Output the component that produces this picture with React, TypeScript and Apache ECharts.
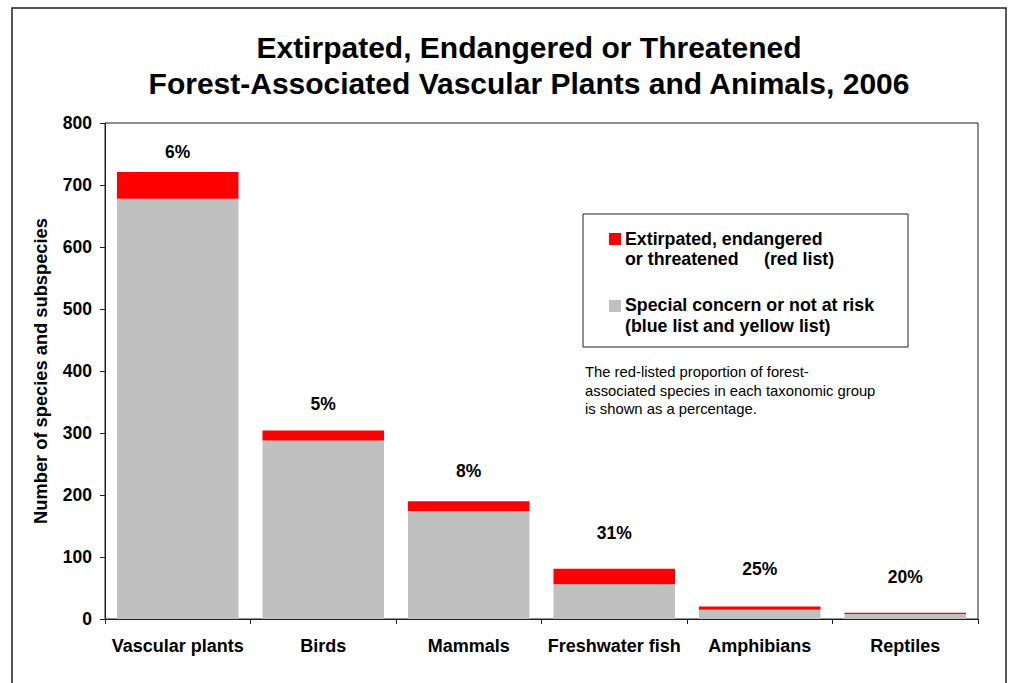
import React, { useEffect, useRef } from "react";
import * as echarts from "echarts";

const categories = ["Vascular plants", "Birds", "Mammals", "Freshwater fish", "Amphibians", "Reptiles"];
const notAtRisk = [678, 288, 174, 56, 15, 8];
const redListed = [43, 16, 16, 25, 5, 2];
const pctLabels = ["6%", "5%", "8%", "31%", "25%", "20%"];
const pctLabelY = [753, 347, 238, 139, 80, 68];
const yTicks = { min: 0, max: 800, interval: 100 };

const FONT = "'Liberation Sans', Arial, sans-serif";

export default function App() {
  const ref = useRef<HTMLDivElement>(null);
  useEffect(() => {
    if (!ref.current) return;
    const chart = echarts.init(ref.current, undefined, { renderer: "svg" });
    const legendText = { fontFamily: FONT, fontSize: 17.8, fontWeight: "bold", fill: "#000", verticalAlign: "middle" };
    chart.setOption({
      animation: false,
      backgroundColor: "#ffffff",
      title: {
        text: "Extirpated, Endangered or Threatened\nForest-Associated Vascular Plants and Animals, 2006",
        left: 524,
        top: 24,
        textAlign: "center",
        textStyle: { fontFamily: FONT, fontSize: 30, fontWeight: "bold", color: "#000", lineHeight: 36 },
      },
      grid: { left: 105, right: 36, top: 123, bottom: 64, show: true, borderColor: "#222", borderWidth: 1, containLabel: false },
      xAxis: {
        type: "category",
        data: categories,
        axisLine: { lineStyle: { color: "#222", width: 1 } },
        axisTick: { show: true, length: 5, lineStyle: { color: "#222" } },
        axisLabel: { fontFamily: FONT, fontSize: 18, fontWeight: "bold", color: "#000", margin: 18, interval: 0 },
      },
      yAxis: {
        type: "value",
        min: yTicks.min,
        max: yTicks.max,
        interval: yTicks.interval,
        name: "Number of species and subspecies",
        nameLocation: "middle",
        nameRotate: 90,
        nameGap: 56,
        nameTextStyle: { fontFamily: FONT, fontSize: 18.3, fontWeight: "bold", color: "#000" },
        axisLine: { show: true, lineStyle: { color: "#222", width: 1 } },
        axisTick: { show: true, length: 5, lineStyle: { color: "#222" } },
        axisLabel: { fontFamily: FONT, fontSize: 17.5, fontWeight: "bold", color: "#000", margin: 13 },
        splitLine: { show: false },
      },
      series: [
        {
          name: "Special concern or not at risk (blue list and yellow list)",
          type: "bar",
          stack: "total",
          data: notAtRisk,
          barCategoryGap: "16.5%",
          itemStyle: { color: "#C0C0C0" },
        },
        {
          name: "Extirpated, endangered or threatened (red list)",
          type: "bar",
          stack: "total",
          data: redListed,
          barCategoryGap: "16.5%",
          itemStyle: { color: "#FF0000" },
        },
        {
          name: "Red-listed proportion",
          type: "scatter",
          symbolSize: 0,
          itemStyle: { opacity: 1 },
          data: pctLabelY.map((v, i) => [categories[i], v]),
          label: {
            show: true,
            position: "inside",
            formatter: (p: any) => pctLabels[p.dataIndex],
            fontFamily: FONT,
            fontSize: 17.5,
            fontWeight: "bold",
            color: "#000",
            opacity: 1,
            textBorderWidth: 0,
          },
          silent: true,
        },
      ],
      graphic: [
        { type: "rect", shape: { x: 12, y: 8, width: 994, height: 700 }, style: { fill: "none", stroke: "#222", lineWidth: 1.5 }, silent: true },
        { type: "rect", shape: { x: 583, y: 214, width: 325, height: 133 }, style: { fill: "#fff", stroke: "#222", lineWidth: 1 } },
        { type: "rect", shape: { x: 609, y: 233, width: 12, height: 12 }, style: { fill: "#FF0000" } },
        { type: "text", x: 625, y: 239, style: { ...legendText, text: "Extirpated, endangered" } },
        { type: "text", x: 625, y: 259, style: { ...legendText, text: "or threatened" } },
        { type: "text", x: 764, y: 259, style: { ...legendText, text: "(red list)" } },
        { type: "rect", shape: { x: 609, y: 300, width: 12, height: 12 }, style: { fill: "#C0C0C0" } },
        { type: "text", x: 625, y: 305, style: { ...legendText, text: "Special concern or not at risk" } },
        { type: "text", x: 625, y: 326, style: { ...legendText, text: "(blue list and yellow list)" } },
        { type: "text", x: 585, y: 363, style: { text: "The red-listed proportion of forest-\nassociated species in each taxonomic group\nis shown as a percentage.", fontFamily: FONT, fontSize: 14.8, lineHeight: 18.5, fill: "#000", verticalAlign: "top" } },
      ],
    });
    return () => chart.dispose();
  }, []);
  return <div ref={ref} style={{ position: "absolute", left: 0, top: 0, width: 1014, height: 683, background: "#fff" }} />;
}
